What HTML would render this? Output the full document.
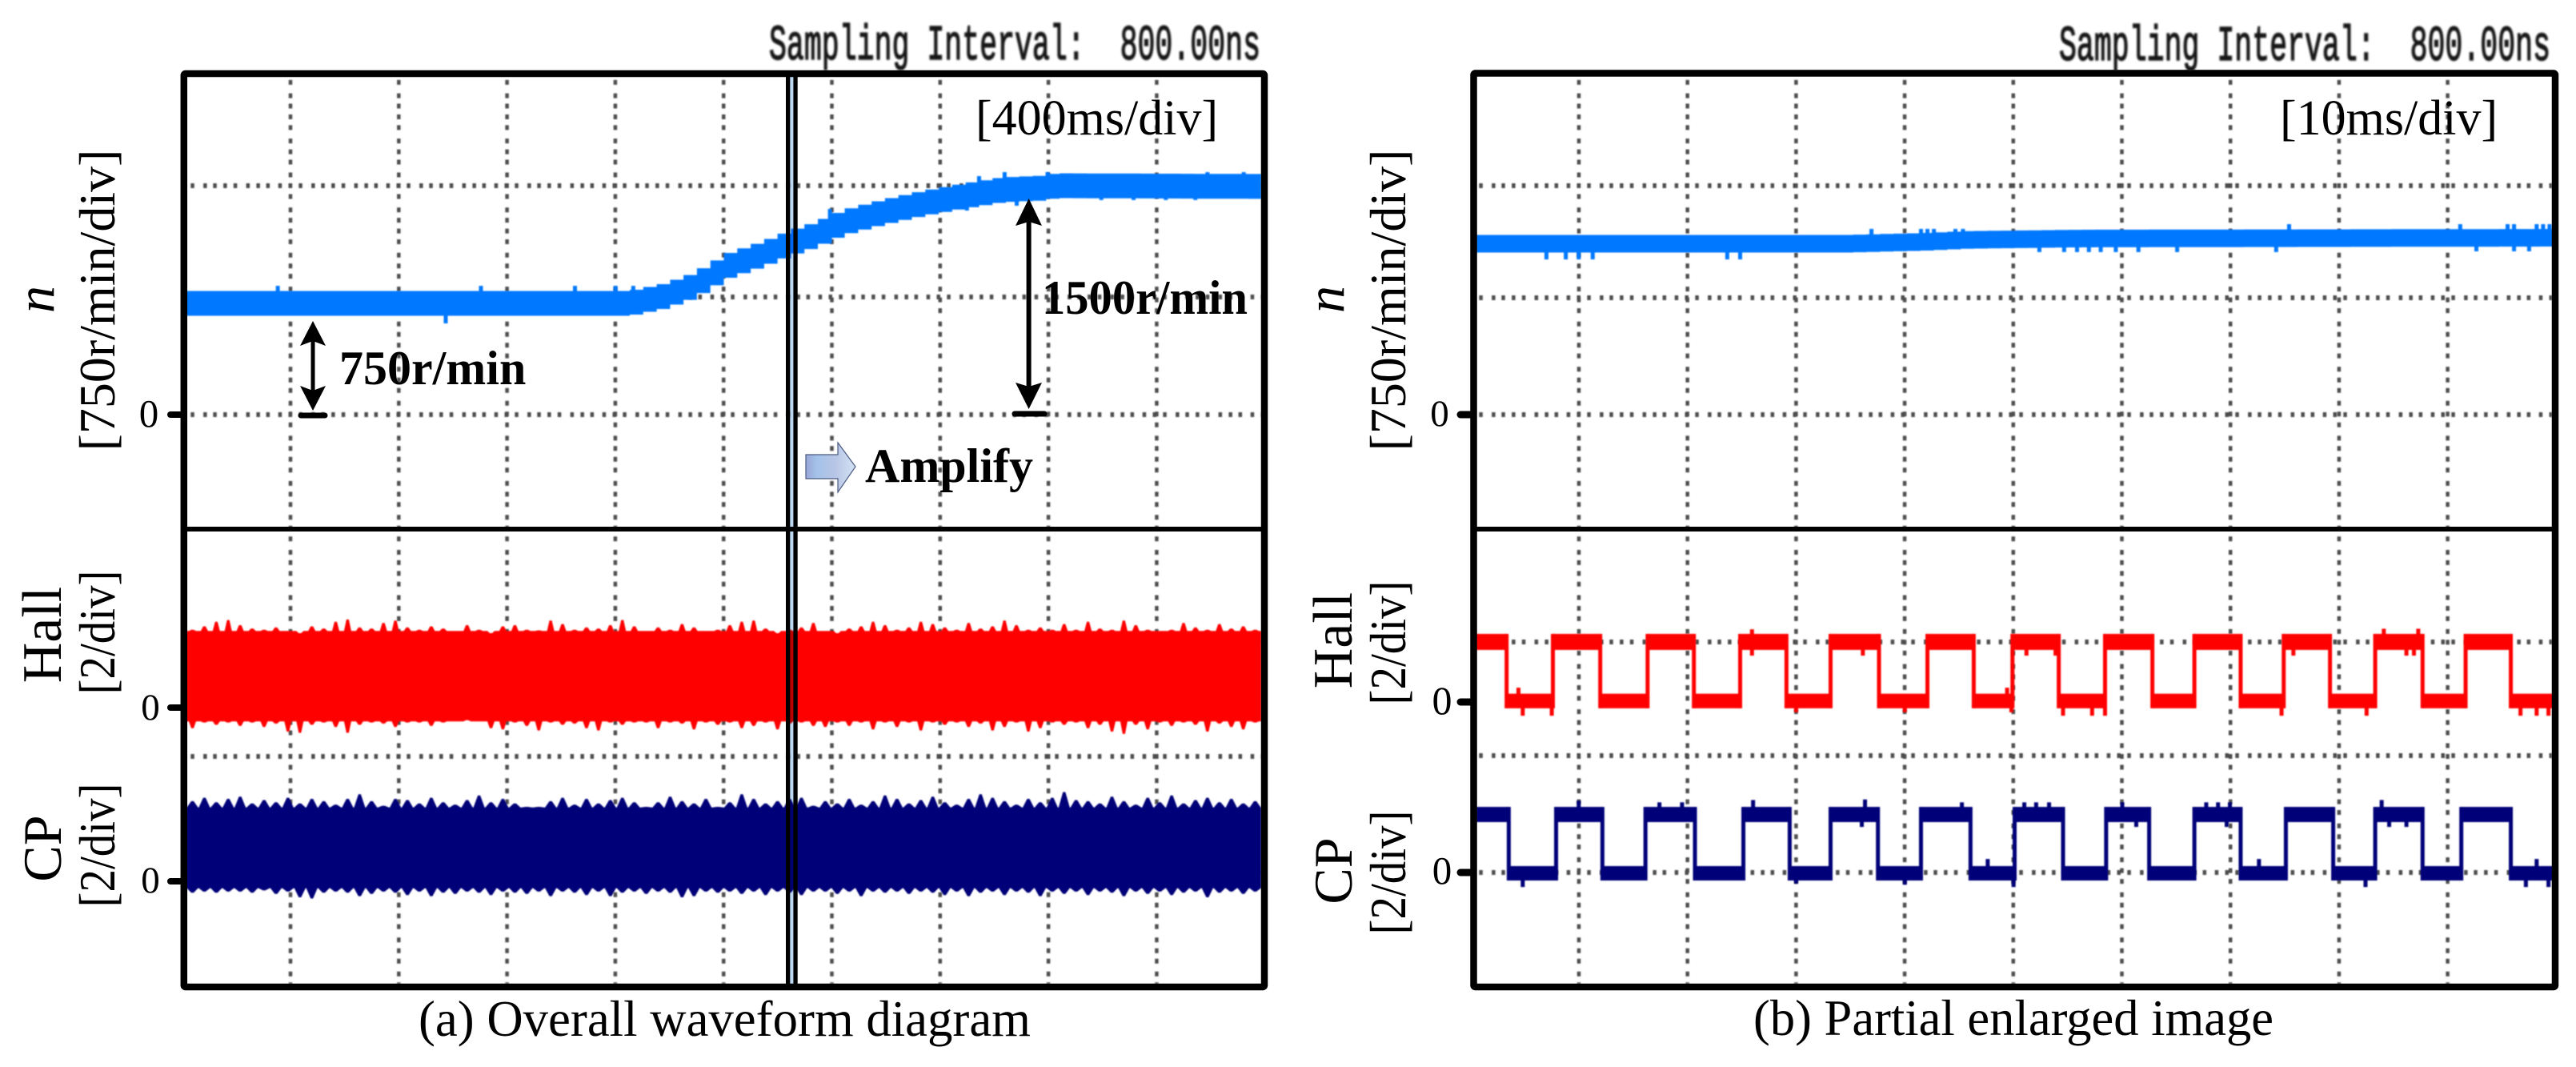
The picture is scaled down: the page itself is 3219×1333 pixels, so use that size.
<!DOCTYPE html>
<html lang="en">
<head>
<meta charset="utf-8">
<title>Overall waveform and partial enlarged image</title>
<style>
html,body{margin:0;padding:0;background:#fff;width:3219px;height:1333px;overflow:hidden}
svg{display:block}
text{font-family:"Liberation Serif",serif;fill:#000}
.mono{font-family:"Liberation Mono",monospace;fill:#161616;stroke:#161616;stroke-width:1.5}
</style>
</head>
<body>
<svg id="chart" xmlns="http://www.w3.org/2000/svg" width="3219" height="1333" viewBox="0 0 3219 1333">
<defs>
<filter id="soft" x="0" y="0" width="3219" height="1333" filterUnits="userSpaceOnUse"><feGaussianBlur stdDeviation="0.8"/></filter>
<filter id="softGrid" x="0" y="0" width="3219" height="1333" filterUnits="userSpaceOnUse"><feGaussianBlur stdDeviation="0.9"/></filter>
<filter id="softText" x="0" y="0" width="3219" height="1333" filterUnits="userSpaceOnUse"><feGaussianBlur stdDeviation="1"/></filter>
<linearGradient id="amplifyFill" x1="0" x2="1" y1="0" y2="0">
<stop offset="0" stop-color="#99a6d8"/><stop offset=".22" stop-color="#a3c2e8"/><stop offset=".6" stop-color="#b9c6e6"/><stop offset="1" stop-color="#d4e2f4"/>
</linearGradient>
</defs>

<g id="gridA" filter="url(#softGrid)"></g>
<g id="gridB" filter="url(#softGrid)"></g>
<g id="tracesA" filter="url(#soft)"></g>
<g id="tracesB" filter="url(#soft)"></g>

<!-- cursor -->
<g>
<rect x="987" y="92" width="5" height="1141" fill="#bcd8f0" style="mix-blend-mode:multiply"/>
<rect x="982" y="92" width="5.3" height="1141" fill="#000"/>
<rect x="991.4" y="92" width="5.3" height="1141" fill="#000"/>
</g>

<!-- frames -->
<g fill="none" stroke="#000">
<rect x="229.8" y="92" width="1350.2" height="1141" stroke-width="8.5" rx="2"/>
<line x1="230" x2="1580" y1="661" y2="661" stroke-width="6"/>
</g>
<g fill="none" stroke="#000">
<rect x="1841.5" y="91.5" width="1351.5" height="1141.5" stroke-width="8.5" rx="2"/>
<line x1="1842" x2="3193" y1="661" y2="661" stroke-width="6"/>
</g>

<!-- header text -->
<text class="mono" x="961" y="74" font-size="62" textLength="614" lengthAdjust="spacingAndGlyphs" xml:space="preserve" filter="url(#softText)">Sampling Interval:  800.00ns</text>
<text class="mono" x="2573" y="75" font-size="62" textLength="614" lengthAdjust="spacingAndGlyphs" xml:space="preserve" filter="url(#softText)">Sampling Interval:  800.00ns</text>
<text x="1219" y="168" font-size="62">[400ms/div]</text>
<text x="2849" y="168" font-size="62">[10ms/div]</text>

<!-- left y labels -->
<g>
<text transform="translate(67 374) rotate(-90)" text-anchor="middle" font-size="68" font-style="italic">n</text>
<text transform="translate(143 375) rotate(-90)" text-anchor="middle" font-size="64">[750r/min/div]</text>
<text transform="translate(76 793) rotate(-90)" text-anchor="middle" font-size="70">Hall</text>
<text transform="translate(143 790) rotate(-90)" text-anchor="middle" font-size="64" textLength="155" lengthAdjust="spacingAndGlyphs">[2/div]</text>
<text transform="translate(76 1060) rotate(-90)" text-anchor="middle" font-size="68">CP</text>
<text transform="translate(143 1056) rotate(-90)" text-anchor="middle" font-size="64" textLength="155" lengthAdjust="spacingAndGlyphs">[2/div]</text>
<text x="186" y="533" text-anchor="middle" font-size="49">0</text>
<text x="188" y="899" text-anchor="middle" font-size="47">0</text>
<text x="188" y="1115" text-anchor="middle" font-size="47">0</text>
<line x1="213" x2="228" y1="518" y2="518" stroke="#000" stroke-width="8" stroke-linecap="round"/>
<line x1="213" x2="228" y1="884" y2="884" stroke="#000" stroke-width="8" stroke-linecap="round"/>
<line x1="213" x2="228" y1="1101" y2="1101" stroke="#000" stroke-width="8" stroke-linecap="round"/>
</g>

<!-- right y labels -->
<g>
<text transform="translate(1679 374) rotate(-90)" text-anchor="middle" font-size="68" font-style="italic">n</text>
<text transform="translate(1756 375) rotate(-90)" text-anchor="middle" font-size="64">[750r/min/div]</text>
<text transform="translate(1689 800) rotate(-90)" text-anchor="middle" font-size="70">Hall</text>
<text transform="translate(1756 803) rotate(-90)" text-anchor="middle" font-size="64" textLength="155" lengthAdjust="spacingAndGlyphs">[2/div]</text>
<text transform="translate(1689 1088) rotate(-90)" text-anchor="middle" font-size="68">CP</text>
<text transform="translate(1756 1090) rotate(-90)" text-anchor="middle" font-size="64" textLength="155" lengthAdjust="spacingAndGlyphs">[2/div]</text>
<text x="1799" y="532" text-anchor="middle" font-size="47">0</text>
<text x="1802" y="892" text-anchor="middle" font-size="50">0</text>
<text x="1802" y="1104" text-anchor="middle" font-size="49">0</text>
<line x1="1825" x2="1840" y1="518" y2="518" stroke="#000" stroke-width="9" stroke-linecap="round"/>
<line x1="1825" x2="1840" y1="877" y2="877" stroke="#000" stroke-width="9" stroke-linecap="round"/>
<line x1="1825" x2="1840" y1="1090" y2="1090" stroke="#000" stroke-width="9" stroke-linecap="round"/>
</g>

<!-- annotations -->
<g>
<line x1="391" x2="391" y1="420" y2="495" stroke="#000" stroke-width="5"/>
<polygon points="391,401 407,432 391,426 375,432" fill="#000"/>
<polygon points="391,513 407,482 391,488 375,482" fill="#000"/>
<line x1="376" x2="406" y1="519" y2="519" stroke="#000" stroke-width="7" stroke-linecap="round"/>
<text x="424" y="480" font-size="60" font-weight="bold">750r/min</text>
</g>
<g>
<line x1="1285.6" x2="1285.6" y1="270" y2="490" stroke="#000" stroke-width="6"/>
<polygon points="1285.6,248 1302,282 1285.6,277 1269,282" fill="#000"/>
<polygon points="1285.6,511 1302,478 1285.6,483 1269,478" fill="#000"/>
<line x1="1268" x2="1305" y1="517" y2="517" stroke="#000" stroke-width="7" stroke-linecap="round"/>
<text x="1302" y="392" font-size="60" font-weight="bold" textLength="257" lengthAdjust="spacingAndGlyphs">1500r/min</text>
</g>
<g>
<polygon points="1007,568 1047,568 1047,553 1069,583 1047,615 1047,598 1007,598" fill="url(#amplifyFill)" stroke="#4a5a80" stroke-width="1.2"/>
<text x="1081" y="602" font-size="60" font-weight="bold">Amplify</text>
</g>

<!-- captions -->
<text x="523" y="1294" font-size="63" textLength="765" lengthAdjust="spacingAndGlyphs">(a) Overall waveform diagram</text>
<text x="2191" y="1293" font-size="63" textLength="650" lengthAdjust="spacingAndGlyphs">(b) Partial enlarged image</text>
</svg>

<script>
// ---------- Panel (a) data ----------
const speedTimesA = [0, 1629, 1757, 1867, 1996, 2127, 2234, 2323, 2424, 2573, 2722, 2871, 3020, 3169, 3211, 4000];
const speedValuesA = [729, 729, 776, 844, 976, 1054, 1128, 1180, 1259, 1327, 1385, 1432, 1474, 1484, 1500, 1495];
const speedSpikeTimesA = [340, 965, 1096, 1446, 1597, 1663, 2395, 2395, 2905, 2950, 3045, 3090, 3205, 3405, 3525, 3645, 3755, 3800, 3935];
const speedSpikeValuesA = [844, 598, 844, 844, 844, 844, 1348, 1127, 1337, 1563, 1589, 1369, 1589, 1406, 1406, 1406, 1406, 1589, 1589];
const hallUpperA = [1.36,1.42,1.50,1.53,1.44,1.38,1.36,1.40,1.34,1.30,1.42,1.38,1.50,1.54,1.40,1.38,1.48,1.52,1.40,1.36,1.42,1.38,1.34,1.44,1.36,1.30,1.42,1.44,1.36,1.35,1.52,1.46,1.36,1.40,1.38,1.44,1.53,1.42,1.34,1.40,1.36,1.46,1.40,1.34,1.36,1.44,1.50,1.52,1.38,1.30,1.36,1.40,1.48,1.34,1.30,1.38,1.42,1.50,1.44,1.36,1.40,1.50,1.46,1.40,1.36,1.48,1.38,1.42,1.52,1.44,1.36,1.40,1.36,1.46,1.36,1.50,1.38,1.36,1.52,1.44,1.36,1.34,1.36,1.48,1.40,1.36,1.46,1.38,1.42,1.36];
const hallLowerA = [-0.36,-0.26,-0.30,-0.26,-0.32,-0.26,-0.34,-0.28,-0.42,-0.44,-0.30,-0.26,-0.34,-0.44,-0.30,-0.26,-0.28,-0.34,-0.26,-0.26,-0.32,-0.26,-0.24,-0.22,-0.24,-0.36,-0.38,-0.26,-0.32,-0.40,-0.26,-0.30,-0.28,-0.36,-0.40,-0.26,-0.30,-0.26,-0.26,-0.36,-0.26,-0.28,-0.38,-0.26,-0.30,-0.26,-0.36,-0.32,-0.26,-0.38,-0.28,-0.26,-0.32,-0.34,-0.26,-0.32,-0.26,-0.38,-0.26,-0.34,-0.26,-0.40,-0.26,-0.30,-0.26,-0.34,-0.28,-0.40,-0.34,-0.26,-0.42,-0.36,-0.26,-0.30,-0.26,-0.36,-0.30,-0.42,-0.46,-0.30,-0.38,-0.26,-0.32,-0.26,-0.30,-0.42,-0.28,-0.34,-0.38,-0.26];
const cpUpperA = [1.40,1.46,1.38,1.44,1.48,1.36,1.42,1.38,1.46,1.36,1.44,1.40,1.34,1.44,1.52,1.40,1.32,1.44,1.42,1.36,1.46,1.38,1.34,1.42,1.50,1.38,1.44,1.36,1.30,1.30,1.40,1.46,1.34,1.44,1.36,1.42,1.46,1.38,1.30,1.38,1.48,1.40,1.36,1.44,1.30,1.38,1.52,1.44,1.36,1.40,1.44,1.46,1.32,1.40,1.36,1.44,1.34,1.40,1.50,1.44,1.36,1.42,1.48,1.38,1.34,1.44,1.52,1.46,1.40,1.34,1.44,1.38,1.46,1.56,1.42,1.40,1.36,1.48,1.40,1.34,1.46,1.38,1.50,1.36,1.42,1.46,1.38,1.44,1.36,1.40];
const cpLowerA = [-0.20,-0.18,-0.20,-0.18,-0.18,-0.20,-0.16,-0.22,-0.18,-0.28,-0.30,-0.20,-0.18,-0.20,-0.26,-0.22,-0.18,-0.20,-0.24,-0.18,-0.26,-0.20,-0.22,-0.18,-0.20,-0.24,-0.18,-0.20,-0.22,-0.18,-0.26,-0.18,-0.20,-0.24,-0.18,-0.26,-0.20,-0.18,-0.22,-0.18,-0.20,-0.28,-0.26,-0.18,-0.20,-0.18,-0.22,-0.18,-0.24,-0.18,-0.20,-0.24,-0.18,-0.18,-0.22,-0.18,-0.26,-0.18,-0.20,-0.18,-0.22,-0.18,-0.20,-0.24,-0.18,-0.26,-0.20,-0.18,-0.24,-0.18,-0.20,-0.26,-0.18,-0.22,-0.18,-0.24,-0.18,-0.20,-0.26,-0.18,-0.22,-0.18,-0.24,-0.20,-0.18,-0.28,-0.20,-0.18,-0.22,-0.18];

// ---------- Panel (b) data ----------
const speedTimesB = [0, 34, 41, 45, 56, 100];
const speedValuesB = [1120, 1120, 1132, 1145, 1154, 1159];
const speedSpikeTimesB = [6.5,8.3,9.5,10.8,23.3,24.5,52.3,54.6,55.8,56.9,58,59.4,61.5,65.1,74.3,92.9,96.4,97.8,36.7,41.3,41.9,42.5,44.5,45.2,75.5,91.4,95.8,96.4,98.5,99.1,99.7];
const speedSpikeValuesB = [1017,1017,1017,1017,1017,1017,1065,1065,1065,1065,1065,1065,1065,1065,1065,1070,1070,1070,1217,1217,1217,1217,1217,1217,1248,1248,1248,1248,1248,1248,1248];
const hallEdgesB = [2.8,7.1,11.5,15.9,20.2,24.5,28.8,32.9,37.4,41.9,46.2,49.8,54.1,58.4,62.8,66.7,71.0,75.0,79.3,83.5,87.9,91.9,96.1];
const cpEdgesB = [3.0,7.4,11.7,15.7,20.3,24.8,29.1,32.9,37.3,41.3,45.9,50.0,54.5,58.5,62.5,66.7,71.0,75.2,79.6,83.5,87.9,91.5,96.1];
const hallHighBand = [1.19, 0.91];
const hallLowBand = [0.145, -0.11];
const cpHighBand = [1.16, 0.895];
const cpLowBand = [0.126, -0.126];
const hallSpikeTimesB = [4.3,7.0,3.9,25.6,25.6,35.9,29.7,39.8,49.7,49.3,51.1,53.8,54.5,57.2,58.4,84.3,87.5,86.4,87.1,75.9,82.7,74.8,97,98.5,99.6];
const hallSpikeValuesB = [-0.24,-0.24,0.25,1.27,0.81,0.81,-0.18,-0.18,-0.18,0.25,0.81,0.81,-0.24,-0.24,-0.24,1.28,1.28,0.81,0.81,0.81,-0.24,-0.24,-0.24,-0.24,-0.24];
const cpSpikeTimesB = [4.3,9.5,17.0,19.1,25.7,36.1,35.8,39.8,29.7,45.1,47.5,49.9,50.9,52.0,53.2,60.0,61.3,67.8,68.9,70.0,69.7,84.1,84.8,86.4,82.6,97.5,99.6,72.7,98.5];
const cpSpikeValuesB = [-0.24,1.27,1.24,1.24,1.28,1.29,0.81,-0.2,-0.18,1.24,0.25,-0.24,1.24,1.24,1.24,1.24,0.81,1.24,1.24,1.24,0.81,1.28,0.81,0.81,-0.24,-0.24,-0.24,0.25,0.25];

// ---------- Axis functions ----------
const xA = t => 233 + t * (1343 / 4000);
const xB = t => 1845 + t * 13.45;
const ySpeed = n => 518 - n * 143 / 750;
const yHallA = v => 884 - v * 71.5;
const yCpA = v => 1101 - v * 71.5;
const yHallB = v => 877 - v * 71.5;
const yCpB = v => 1091 - v * 71.5;

const NS = 'http://www.w3.org/2000/svg';
function make(tag, parent, props) {
  const el = document.createElementNS(NS, tag);
  for (const k in props) el.setAttribute(k, props[k]);
  parent.appendChild(el);
  return el;
}
function interp(ts, vs, t) {
  for (let i = 1; i < ts.length; i++) {
    if (t <= ts[i]) return vs[i-1] + (vs[i]-vs[i-1]) * (t-ts[i-1]) / (ts[i]-ts[i-1]);
  }
  return vs[vs.length-1];
}

// ---------- Grid ----------
const GRID = '#4d4d4d';
const H_DASH = '4.5 8.3 4.5 8.3 4.5 11.3 4.5 7.7 4.5 8.3 4.5 8.2 4.5 11.3 4.5 8.3 4.5 7.7 4.5 10.6';
const V_DASH = '6 7.5 6 7.5 6 10.7 6 6.9 6 7.5 6 7.4 6 10.7 6 7.5 6 6.9 6 10';
function drawGrid(group, side, firstX, stepX, left, right, hOffset, hLevels) {
  for (let i = 0; i < 9; i++) {
    const l = make('line', group, {x1: firstX + i*stepX, x2: firstX + i*stepX, y1: 96, y2: 1229, stroke: GRID, 'stroke-width': 4.5, 'stroke-dasharray': V_DASH, 'stroke-dashoffset': 23.1});
    
    
  }
  hLevels.forEach(y => {
    const l = make('line', group, {x1: left, x2: right, y1: y, y2: y, stroke: GRID, 'stroke-width': 6, 'stroke-dasharray': H_DASH, 'stroke-dashoffset': hOffset});
    
    
  });
}
const gridRowsA = [232, 371, 518, 802, 945, 1090];
const gridRowsB = [232, 372, 518, 802, 944, 1090];
drawGrid(document.getElementById('gridA'), 'left', 363, 135.3, 236, 1576, 23.3, gridRowsA);
drawGrid(document.getElementById('gridB'), 'right', 1973, 135.7, 1848, 3189, 25.3, gridRowsB);

// ---------- Traces ----------
const SPEED_COLOR = '#0078ff', HALL_COLOR = '#ff0000', CP_COLOR = '#000078';

function speedBand(group, name, ts, vs, x, halfWidth, end) {
  const up = [], dn = [];
  const step = end / 80;
  let prev = ySpeed(interp(ts, vs, 0));
  for (let k = 0; k <= 80; k++) {
    const t = k * step;
    const y = ySpeed(interp(ts, vs, t));
    const px = x(t).toFixed(1);
    up.push(px + ',' + (prev - halfWidth).toFixed(1), px + ',' + (y - halfWidth).toFixed(1));
    dn.unshift(px + ',' + (prev + halfWidth).toFixed(1), px + ',' + (y + halfWidth).toFixed(1));
    dn.splice(0, 2, px + ',' + (y + halfWidth).toFixed(1), px + ',' + (prev + halfWidth).toFixed(1));
    prev = y;
  }
  const p = make('polygon', group, {points: up.concat(dn).join(' '), fill: SPEED_COLOR});
  
  
}
function spikes(group, name, times, values, x, y, centerAt, color, w) {
  times.forEach((t, i) => {
    const y0 = centerAt(t), y1 = y(values[i]);
    const s = make('rect', group, {x: x(t) - w/2, y: Math.min(y0, y1), width: w, height: Math.abs(y1 - y0), fill: color});
    
    
  });
}
function envelope(group, name, upper, lower, bodyTop, bodyBottom, x, y, end, color, hw) {
  const pts = [];
  const add = (px, py) => pts.push(px.toFixed(1) + ',' + py.toFixed(1));
  upper.forEach((v, i) => {
    const px = x((i + 0.5) * end / upper.length);
    add(px - hw, y(bodyTop));
    add(px - 1.5, y(v));
    add(px + 1.5, y(v));
    add(px + hw, y(bodyTop));
  });
  add(x(end), y(bodyTop));
  add(x(end), y(bodyBottom));
  for (let i = lower.length - 1; i >= 0; i--) {
    const px = x((i + 0.5) * end / lower.length);
    add(px + hw, y(bodyBottom));
    add(px + 1.5, y(lower[i]));
    add(px - 1.5, y(lower[i]));
    add(px - hw, y(bodyBottom));
  }
  add(x(0), y(bodyBottom));
  add(x(0), y(bodyTop));
  const p = make('polygon', group, {points: pts.join(' '), fill: color});
  
  
}
function squareWave(group, name, edges, x, y, hi, lo, color, end) {
  const all = [0].concat(edges, [end]);
  for (let i = 0; i < all.length - 1; i++) {
    const band = i % 2 === 0 ? hi : lo;
    const seg = make('rect', group, {x: x(all[i]), y: y(band[0]), width: x(all[i+1]) - x(all[i]), height: y(band[1]) - y(band[0]), fill: color});
    
    
    if (i < edges.length) {
      const e = make('rect', group, {x: x(edges[i]) - 2.5, y: y(hi[0]), width: 5, height: y(lo[1]) - y(hi[0]), fill: color});
      
      
    }
  }
}

const ga = document.getElementById('tracesA');
speedBand(ga, 'speed-trace-a', speedTimesA, speedValuesA, xA, 15.5, 4000);
spikes(ga, 'speed-spike-a', speedSpikeTimesA, speedSpikeValuesA, xA, ySpeed, t => ySpeed(interp(speedTimesA, speedValuesA, t)), SPEED_COLOR, 5);
envelope(ga, 'hall-trace-a', hallUpperA, hallLowerA, 1.34, -0.24, xA, yHallA, 4000, HALL_COLOR, 4.5);
envelope(ga, 'cp-trace-a', cpUpperA, cpLowerA, 1.29, -0.12, xA, yCpA, 4000, CP_COLOR, 7);

const gb = document.getElementById('tracesB');
speedBand(gb, 'speed-trace-b', speedTimesB, speedValuesB, xB, 11, 100);
spikes(gb, 'speed-spike-b', speedSpikeTimesB, speedSpikeValuesB, xB, ySpeed, t => ySpeed(interp(speedTimesB, speedValuesB, t)), SPEED_COLOR, 5);
squareWave(gb, 'hall-trace-b', hallEdgesB, xB, yHallB, hallHighBand, hallLowBand, HALL_COLOR, 100);
squareWave(gb, 'cp-trace-b', cpEdgesB, xB, yCpB, cpHighBand, cpLowBand, CP_COLOR, 100);
hallSpikeTimesB.forEach((t, i) => {
  const v = hallSpikeValuesB[i];
  const c = v > 0.5 ? 1.05 : 0.02;
  const s = make('rect', gb, {x: xB(t) - 2.5, y: Math.min(yHallB(c), yHallB(v)), width: 5, height: Math.abs(yHallB(v) - yHallB(c)), fill: HALL_COLOR});
  
  
});
cpSpikeTimesB.forEach((t, i) => {
  const v = cpSpikeValuesB[i];
  const c = v > 0.5 ? 1.0 : 0.02;
  const s = make('rect', gb, {x: xB(t) - 2.5, y: Math.min(yCpB(c), yCpB(v)), width: 5, height: Math.abs(yCpB(v) - yCpB(c)), fill: CP_COLOR});
  
  
});
</script>
</body>
</html>
